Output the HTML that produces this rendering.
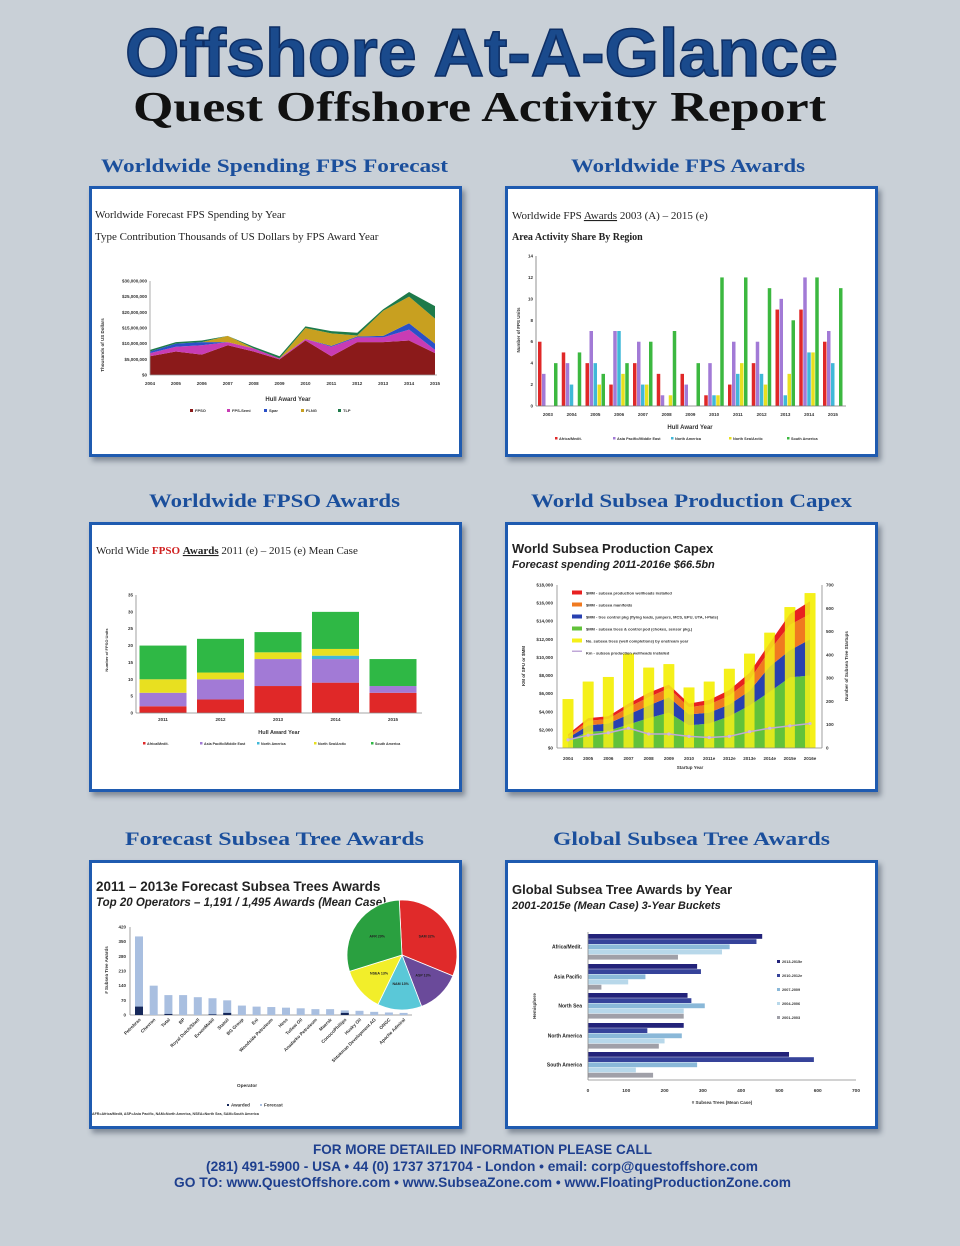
<!DOCTYPE html>
<html><head><meta charset="utf-8"><style>
html,body{margin:0;padding:0;background:#c9d0d7;}
body{width:960px;height:1246px;position:relative;overflow:hidden;font-family:"Liberation Sans",sans-serif;}
.panel{position:absolute;background:#fff;border:3px solid #1f5bb0;box-shadow:3px 4px 5px rgba(40,50,70,.45);box-sizing:border-box;}
svg{position:absolute;left:0;top:0;}
</style></head><body>
<div class="panel" style="left:89px;top:186px;width:373px;height:271px"></div>
<div class="panel" style="left:505px;top:186px;width:373px;height:271px"></div>
<div class="panel" style="left:89px;top:522px;width:373px;height:270px"></div>
<div class="panel" style="left:505px;top:522px;width:373px;height:270px"></div>
<div class="panel" style="left:89px;top:860px;width:373px;height:269px"></div>
<div class="panel" style="left:505px;top:860px;width:373px;height:269px"></div>
<svg id="s" width="960" height="1246" viewBox="0 0 960 1246">
<text x="125" y="76" font-family="Liberation Sans,sans-serif" font-weight="bold" font-size="68" fill="#1a4a8c" stroke="#0e2f66" stroke-width="1.5" textLength="713" lengthAdjust="spacingAndGlyphs">Offshore At-A-Glance</text>
<text x="133" y="121" font-family="Liberation Serif,serif" font-weight="bold" font-size="42" fill="#111" textLength="693" lengthAdjust="spacingAndGlyphs">Quest Offshore Activity Report</text>
<g font-family="Liberation Serif,serif" font-weight="bold" font-size="19" fill="#1b4f9c">
<text x="101" y="172" textLength="347" lengthAdjust="spacingAndGlyphs">Worldwide Spending FPS Forecast</text>
<text x="571" y="172" textLength="234" lengthAdjust="spacingAndGlyphs">Worldwide FPS Awards</text>
<text x="149" y="507" textLength="251" lengthAdjust="spacingAndGlyphs">Worldwide FPSO Awards</text>
<text x="531" y="507" textLength="321" lengthAdjust="spacingAndGlyphs">World Subsea Production Capex</text>
<text x="125" y="845" textLength="299" lengthAdjust="spacingAndGlyphs">Forecast Subsea Tree Awards</text>
<text x="553" y="845" textLength="277" lengthAdjust="spacingAndGlyphs">Global Subsea Tree Awards</text>
</g>
<g font-family="Liberation Sans,sans-serif" font-size="14" font-weight="bold" fill="#1e3f8e">
<text x="313" y="1154" textLength="339" lengthAdjust="spacingAndGlyphs">FOR MORE DETAILED INFORMATION PLEASE CALL</text>
<text x="206" y="1171" textLength="552" lengthAdjust="spacingAndGlyphs">(281) 491-5900 - USA  •  44 (0) 1737 371704 - London   •  email: corp@questoffshore.com</text>
<text x="174" y="1187" textLength="617" lengthAdjust="spacingAndGlyphs">GO TO:  www.QuestOffshore.com •  www.SubseaZone.com  •  www.FloatingProductionZone.com</text>
</g>
<g font-family="Liberation Serif,serif" font-size="11" fill="#222">
<text x="95" y="218">Worldwide Forecast FPS Spending by Year</text>
<text x="95" y="240">Type Contribution Thousands of US Dollars by FPS Award Year</text>
<text x="512" y="219">Worldwide FPS <tspan text-decoration="underline">Awards</tspan> 2003 (A) – 2015 (e)</text>
<text x="512" y="240" font-size="10" font-weight="bold">Area Activity Share By Region</text>
<text x="96" y="554">World Wide <tspan fill="#d02020" font-weight="bold">FPSO</tspan> <tspan text-decoration="underline" font-weight="bold">Awards</tspan> 2011 (e) – 2015 (e) Mean Case</text>
</g>
<g font-family="Liberation Sans,sans-serif" font-weight="bold" fill="#222">
<text x="512" y="553" font-size="13">World Subsea Production Capex</text>
<text x="512" y="568" font-size="11" font-style="italic">Forecast spending 2011-2016e $66.5bn</text>
<text x="96" y="891" font-size="13.5">2011 – 2013e Forecast Subsea Trees Awards</text>
<text x="96" y="906" font-size="11.5" font-style="italic">Top 20 Operators – 1,191 / 1,495 Awards (Mean Case)</text>
<text x="512" y="894" font-size="13">Global Subsea Tree Awards by Year</text>
<text x="512" y="909" font-size="11" font-style="italic">2001-2015e (Mean Case) 3-Year Buckets</text>
</g>
</svg>
<script>
// ---------- Chart 1 data ----------
const c1Years=['2004','2005','2006','2007','2008','2009','2010','2011','2012','2013','2014','2015'];
const c1Series=['FPSO','FPS-Semi','Spar','FLNG','TLP'];
const c1FPSO=[6,7.5,6.5,9.5,7.5,5,11,6,10.5,10.5,11,7];
const c1Semi=[1,1.5,3,1,1,0.3,0.5,3,1.5,1.5,3.5,1];
const c1Spar=[0.5,1,1,0,0,0,0,0.3,0.3,0.5,2,2];
const c1FLNG=[0,0,0,2,0,0,3.5,4,0.3,8,8.5,8];
const c1TLP=[0.5,0.5,0.5,0,0.5,0.7,0.5,0.7,0.9,0.5,1.5,4];
const c1Ticks=['$0','$5,000,000','$10,000,000','$15,000,000','$20,000,000','$25,000,000','$30,000,000'];
// ---------- Chart 2 data ----------
const c2Years=['2003','2004','2005','2006','2007','2008','2009','2010','2011','2012','2013','2014','2015'];
const c2Regions=['Africa/Medit.','Asia Pacific/Middle East','North America','North Sea/Arctic','South America'];
const c2Africa=[6,5,4,2,4,3,3,1,2,4,9,9,6];
const c2Asia=[3,4,7,7,6,1,2,4,6,6,10,12,7];
const c2NAm=[0,2,4,7,2,0,0,1,3,3,1,5,4];
const c2NSea=[0,0,2,3,2,1,0,1,4,2,3,5,0];
const c2SAm=[4,5,3,4,6,7,4,12,12,11,8,12,11];
const c2Ticks=[0,2,4,6,8,10,12,14];
// ---------- Chart 3 data ----------
const c3Years=['2011','2012','2013','2014','2015'];
const c3Africa=[2,4,8,9,6];
const c3Asia=[4,6,8,7,2];
const c3NAm=[0,0,0,1,0];
const c3NSea=[4,2,2,2,0];
const c3SAm=[10,10,6,11,8];
const c3Ticks=[0,5,10,15,20,25,30,35];
// ---------- Chart 4 data ----------
const c4Years=['2004','2005','2006','2007','2008','2009','2010','2011e','2012e','2013e','2014e','2015e','2016e'];
const c4Trees=[800,1800,1900,2600,3300,3900,2500,2700,3500,4700,6200,7800,8000];
const c4Control=[300,700,800,1100,1400,1700,1200,1200,1300,1600,2800,3000,4000];
const c4Manifolds=[200,500,500,800,900,1000,800,900,1000,1200,1800,2800,2800];
const c4Wellheads=[200,300,300,400,500,400,400,500,600,800,800,1200,1400];
const c4TreeCount=[210,285,305,405,345,360,260,285,340,405,495,605,665];
const c4WellheadCount=[35,55,65,85,60,60,50,45,50,70,85,95,105];
const c4LeftTicks=['$0','$2,000','$4,000','$6,000','$8,000','$10,000','$12,000','$14,000','$16,000','$18,000'];
const c4RightTicks=[0,100,200,300,400,500,600,700];
const c4Legend=['$MM - subsea production wellheads installed','$MM - subsea manifolds','$MM - tree control pkg (flying leads, jumpers, MCS, EPU, UTA, I-Plate)','$MM - subsea trees & control pod (chokes, sensor pkg.)','No. subsea trees (well completions) by onstream year','Km - subsea production wellheads installed'];
// ---------- Chart 5 data ----------
const c5Ops=['Petrobras','Chevron','Total','BP','Royal Dutch/Shell','ExxonMobil','Statoil','BG Group','Eni','Woodside Petroleum','Hess','Tullow Oil','Anadarko Petroleum','Maersk','ConocoPhillips','Husky Oil','Shtokman Development AG','ONGC','Apache Admiral'];
const c5Forecast=[375,140,95,95,85,80,70,45,40,38,35,32,28,28,22,20,15,12,10];
const c5Awarded=[40,0,5,0,0,3,10,0,0,0,0,0,0,0,10,0,0,0,0];
const c5Ticks=[0,70,140,210,280,350,420];
const c5PieLabels=['SAM 32%','ASP 13%','NAM 13%','NSEA 13%','AFR 29%'];
const c5PieShares=[32,13,13,13,29];
// ---------- Chart 6 data ----------
const c6Regions=['Africa/Medit.','Asia Pacific','North Sea','North America','South America'];
const c6Buckets=['2013-2015e','2010-2012e','2007-2009','2004-2006','2001-2003'];
const c6B1=[455,285,260,250,525];
const c6B2=[440,295,270,155,590];
const c6B3=[370,150,305,245,285];
const c6B4=[350,105,250,200,125];
const c6B5=[235,35,250,185,170];
const c6Ticks=[0,100,200,300,400,500,600,700];

const NS='http://www.w3.org/2000/svg';
const svg=document.getElementById('s');
function mk(tag,a,p){const e=document.createElementNS(NS,tag);for(const k in a)e.setAttribute(k,a[k]);(p||svg).appendChild(e);return e;}
function tx(x,y,s,sz,extra){const e=mk('text',Object.assign({x:x,y:y,'font-size':sz,'font-family':'Liberation Sans,sans-serif','font-weight':'bold',fill:'#333'},extra||{}));e.textContent=s;return e;}
function line(x1,y1,x2,y2,c,w){return mk('line',{x1,y1,x2,y2,stroke:c||'#888','stroke-width':w||0.8});}

// ===== Chart 1 =====
(function(){
const x=i=>150+i*(285/11), y=v=>375-v*94/30;
const layers=[c1FPSO,c1Semi,c1Spar,c1FLNG,c1TLP];
const cols=['#8b1a1a','#c83cb4','#2a50c8','#c8a020','#1e7a4a'];
let base=c1Years.map(()=>0);
layers.forEach((L,k)=>{
 const top=base.map((b,i)=>b+L[i]);
 let pts=top.map((v,i)=>x(i)+','+y(v)).concat(base.map((v,i)=>x(i)+','+y(v)).reverse());
 const p=mk('polygon',{points:pts.join(' '),fill:cols[k]});
 
 
 base=top;
});
line(150,375,437,375,'#999');line(150,281,150,375,'#999');
c1Ticks.forEach((t,i)=>{const e=tx(147,y(i*5)+1.5,t,4.5,{'text-anchor':'end'});
 
 });
c1Years.forEach((t,i)=>{const e=tx(x(i),385,t,4.5,{'text-anchor':'middle'});
 
 });
tx(288,401,'Hull Award Year',6,{'text-anchor':'middle'});
tx(0,0,'Thousands of US Dollars',4.5,{transform:'translate(104,345) rotate(-90)','text-anchor':'middle'});
c1Series.forEach((s,k)=>{const lx=190+k*37;mk('rect',{x:lx,y:409,width:3,height:3,fill:cols[k]});
 const e=tx(lx+5,412,s,4,{});
 
 });
})();

// ===== Chart 2 =====
(function(){
const gw=23.75, x0=536, y=v=>406-v*150/14, bw=4;
const ser=[c2Africa,c2Asia,c2NAm,c2NSea,c2SAm];
const cols=['#e02828','#a27ad6','#40b8d8','#e8e020','#3cb840'];
c2Ticks.forEach(t=>{const e=tx(533,y(t)+1.5,String(t),4.5,{'text-anchor':'end'});
 
 });
c2Years.forEach((yr,i)=>{
 ser.forEach((S,k)=>{const r=mk('rect',{x:x0+i*gw+2+k*bw,y:y(S[i]),width:bw-0.5,height:406-y(S[i]),fill:cols[k]});
  
  });
 const e=tx(x0+i*gw+gw/2,416,yr,4.5,{'text-anchor':'middle'});
 
 
});
line(536,406,846,406,'#777');line(536,256,536,406,'#777');
tx(690,429,'Hull Award Year',6,{'text-anchor':'middle'});
tx(0,0,'Number of FPS Units',4.5,{transform:'translate(520,330) rotate(-90)','text-anchor':'middle'});
c2Regions.forEach((s,k)=>{const lx=555+k*58;mk('rect',{x:lx,y:437,width:2.5,height:2.5,fill:cols[k]});
 const e=tx(lx+4,440,s,3.8,{});
 
 });
})();

// ===== Chart 3 =====
(function(){
const x=i=>163+i*57.5, y=v=>713-v*118/35, bw=47;
const ser=[c3Africa,c3Asia,c3NAm,c3NSea,c3SAm];
const cols=['#e02828','#a27ad6','#40b8d8','#e8e020','#2fb845'];
const names=['Africa/Medit.','Asia Pacific/Middle East','North America','North Sea/Arctic','South America'];
c3Ticks.forEach(t=>{const e=tx(133,y(t)+1.5,String(t),4.5,{'text-anchor':'end'});
 
 });
c3Years.forEach((yr,i)=>{let b=0;
 ser.forEach((S,k)=>{if(S[i]>0){const r=mk('rect',{x:x(i)-bw/2,y:y(b+S[i]),width:bw,height:y(b)-y(b+S[i]),fill:cols[k]});
  
  }
  b+=S[i];});
 const e=tx(x(i),721,yr,4.5,{'text-anchor':'middle'});
 
 });
line(136,713,422,713,'#888');line(136,595,136,713,'#888');
tx(279,734,'Hull Award Year',5.5,{'text-anchor':'middle'});
tx(0,0,'Number of FPSO Units',4,{transform:'translate(108,650) rotate(-90)','text-anchor':'middle'});
names.forEach((s,k)=>{const lx=143+k*57;mk('rect',{x:lx,y:742,width:2.5,height:2.5,fill:cols[k]});
 const e=tx(lx+4,745,s,3.6,{});
 
 });
})();

// ===== Chart 4 =====
(function(){
const x=i=>568+i*20.17, yL=v=>748-v*163/18000, yR=v=>748-v*163/700;
c4TreeCount.forEach((v,i)=>{const r=mk('rect',{x:x(i)-5.5,y:yR(v),width:11,height:748-yR(v),fill:'#f5f01a'});
 
 });
const layers=[c4Trees,c4Control,c4Manifolds,c4Wellheads];
const cols=['#62c23a','#2840b0','#f07a20','#e82020'];
let base=c4Years.map(()=>0);
layers.forEach((L,k)=>{const top=base.map((b,i)=>b+L[i]);
 const pts=top.map((v,i)=>x(i)+','+yL(v)).concat(base.map((v,i)=>x(i)+','+yL(v)).reverse());
 const p=mk('polygon',{points:pts.join(' '),fill:cols[k]});
 
 
 base=top;});
c4TreeCount.forEach((v,i)=>{const r=mk('rect',{x:x(i)-5,y:yR(v),width:10,height:748-yR(v),fill:'#f5f01a','fill-opacity':0.85});
 
 });
mk('polyline',{points:c4WellheadCount.map((v,i)=>x(i)+','+yR(v)).join(' '),fill:'none',stroke:'#c0a8d8','stroke-width':1.5});
c4WellheadCount.forEach((v,i)=>{const c=mk('circle',{cx:x(i),cy:yR(v),r:1.6,fill:'#d0b8e0'});
 
 });
line(557,585,557,748,'#888');line(557,748,822,748,'#888');line(822,585,822,748,'#888');
c4LeftTicks.forEach((t,i)=>{const e=tx(553,yL(i*2000)+1.5,t,4.6,{'text-anchor':'end'});
 
 });
c4RightTicks.forEach(t=>{const e=tx(826,yR(t)+1.5,String(t),4.6,{});
 
 });
c4Years.forEach((t,i)=>{const e=tx(x(i),760,t,4.5,{'text-anchor':'middle'});
 
 });
tx(690,769,'Startup Year',4.5,{'text-anchor':'middle'});
tx(0,0,'KM of SPU or $MM',4.5,{transform:'translate(525,666) rotate(-90)','text-anchor':'middle'});
tx(0,0,'Number of Subsea Tree Startups',4.5,{transform:'translate(848,666) rotate(-90)','text-anchor':'middle'});
const lc=['#e82020','#f07a20','#2840b0','#62c23a','#f5f01a','#c0a8d8'];
c4Legend.forEach((s,k)=>{const ly=593+k*12;mk('rect',{x:572,y:ly-2.5,width:10,height:k==5?1.5:4,fill:lc[k]});
 const e=tx(586,ly+1.5,s,4,{});
 
 });
})();

// ===== Chart 5 =====
(function(){
const x=i=>139+i*14.7, y=v=>1015-v*88/420;
c5Ticks.forEach(t=>{const e=tx(126,y(t)+1.5,String(t),4.5,{'text-anchor':'end'});
 
 });
line(130,927,130,1015,'#888');line(130,1015,412,1015,'#888');
c5Ops.forEach((op,i)=>{
 const r=mk('rect',{x:x(i)-4,y:y(c5Forecast[i]),width:8,height:1015-y(c5Forecast[i]),fill:'#a9bfe0'});
 
 
 if(c5Awarded[i]>0){const a=mk('rect',{x:x(i)-4,y:y(c5Awarded[i]),width:8,height:1015-y(c5Awarded[i]),fill:'#16285a'});
  
  }
 const e=tx(x(i)+2,1020,op,4.6,{'text-anchor':'end',transform:'rotate(-45 '+(x(i)+2)+' 1020)'});
 
 });
tx(247,1087,'Operator',4.8,{'text-anchor':'middle'});
tx(0,0,'# Subsea Tree Awards',4.5,{transform:'translate(108,970) rotate(-90)','text-anchor':'middle'});
mk('rect',{x:227,y:1104,width:2,height:2,fill:'#16285a'});tx(231,1106.5,'Awarded',4.5,{});
mk('rect',{x:260,y:1104,width:2,height:2,fill:'#a9bfe0'});tx(264,1106.5,'Forecast',4.5,{});
tx(92,1115,'AFR=Africa/Medit, ASP=Asia Pacific, NAM=North America, NSEA=North Sea, SAM=South America',3.6,{});
const cx=402,cy=955,R=55;const pc=['#e02a2a','#6a4a9a','#5ac8d8','#f2ee2a','#2aa040'];
const tot=c5PieShares.reduce((a,b)=>a+b,0);let ang=-Math.PI/2-0.05;
c5PieShares.forEach((s,k)=>{const a2=ang+s/tot*2*Math.PI;
 const large=(a2-ang)>Math.PI?1:0;
 const d='M'+cx+','+cy+' L'+(cx+R*Math.cos(ang))+','+(cy+R*Math.sin(ang))+' A'+R+','+R+' 0 '+large+' 1 '+(cx+R*Math.cos(a2))+','+(cy+R*Math.sin(a2))+' Z';
 const p=mk('path',{d:d,fill:pc[k],stroke:'#fff','stroke-width':0.8});
 
 
 const m=(ang+a2)/2;const e=tx(cx+R*0.55*Math.cos(m),cy+R*0.55*Math.sin(m),c5PieLabels[k],3.6,{'text-anchor':'middle',fill:'#222'});
 
 
 ang=a2;});
})();

// ===== Chart 6 =====
(function(){
const x=v=>588+v*268/700, cyc=[947,977,1006,1036,1065], bh=5.2;
const ser=[c6B1,c6B2,c6B3,c6B4,c6B5];
const cols=['#23237a','#36439a','#8ab8d8','#b8d8ea','#a0a0a8'];
c6Regions.forEach((rg,g)=>{
 ser.forEach((S,k)=>{const r=mk('rect',{x:588,y:cyc[g]-13+k*bh,width:x(S[g])-588,height:bh-0.4,fill:cols[k]});
  
  });
 const e=tx(582,cyc[g]+1.5,rg,5,{'text-anchor':'end',fill:'#222'});
 
 });
line(588,932,588,1080,'#888');line(588,1080,856,1080,'#888');
c6Ticks.forEach(t=>{const e=tx(x(t),1092,String(t),4.8,{'text-anchor':'middle'});
 
 });
tx(722,1104,'# Subsea Trees (Mean Case)',4.5,{'text-anchor':'middle'});
tx(0,0,'Hemisphere',4.5,{transform:'translate(536,1006) rotate(-90)','text-anchor':'middle'});
c6Buckets.forEach((b,k)=>{const ly=962+k*14;mk('rect',{x:777,y:ly-2,width:3,height:3,fill:cols[k]});
 const e=tx(782,ly+1,b,3.8,{});
 
 });
})();
</script>
</body></html>
